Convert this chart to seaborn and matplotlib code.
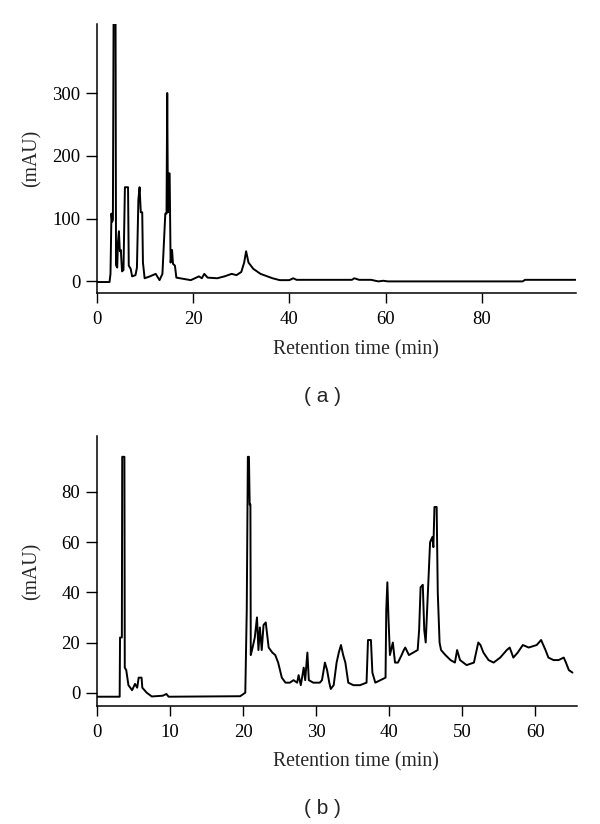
"""
HPLC chromatograms of two extracts, panels (a) and (b).
"""

import matplotlib

matplotlib.use("Agg")
import matplotlib.pyplot as plt
import pandas as pd
import seaborn as sns

# Panel (a): retention time (min) and absorbance (mAU)
time_a = [
    0, 2.6, 2.8, 3.0, 3.15, 3.3, 3.45, 3.85, 3.95, 4.2, 4.35, 4.55,
    4.75, 4.95, 5.2, 5.5, 5.8, 6.45, 6.6, 7.0, 7.3, 8.0, 8.3, 8.6,
    8.85, 9.1, 9.4, 9.55, 9.9, 11.0, 12.2, 13.0, 13.6, 14.2, 14.45, 14.6,
    14.75, 14.9, 15.1, 15.3, 15.6, 15.8, 16.2, 16.5, 18.0, 19.5, 21.2, 21.8,
    22.3, 23.0, 25.0, 26.5, 28.0, 29.0, 30.0, 30.6, 31.0, 31.5, 32.5, 34.0,
    36.5, 38.0, 40.0, 40.8, 41.5, 53.0, 53.5, 54.5, 57.0, 58.5, 59.5, 60.5,
    88.5, 89.0, 99.5,
]
mau_a = [
    -1, -1, 12, 108, 95, 98, 430, 430, 26, 22, 62, 80,
    48, 50, 16, 18, 150, 150, 25, 20, 8, 10, 22, 130,
    150, 110, 110, 30, 5, 8, 12, 2, 12, 108, 108, 300,
    110, 172, 172, 30, 50, 28, 25, 6, 4, 2, 8, 5,
    12, 6, 5, 8, 12, 10, 15, 30, 48, 30, 20, 12,
    5, 2, 2, 5, 2.5, 2.5, 5, 2.5, 2.5, 0, 1, 0,
    0, 2.5, 2.5,
]

# Panel (b)
time_b = [
    0, 3.1, 3.15, 3.4, 3.45, 3.75, 3.8, 4.0, 4.3, 4.8, 5.2, 5.5, 5.7,
    6.1, 6.2, 6.8, 7.5, 9.0, 9.5, 9.8, 19.6, 20.3, 20.5, 20.65, 20.8, 20.9,
    21.0, 21.05, 21.3, 21.6, 21.9, 22.1, 22.3, 22.55, 22.8, 23.1, 23.5, 24.0,
    24.4, 24.8, 25.3, 25.8, 26.4, 26.9, 27.4, 27.6, 27.9, 28.3, 28.5, 28.8,
    29.0, 29.6, 30.5, 30.8, 31.2, 31.5, 31.8, 32.0, 32.4, 32.8, 33.1, 33.4,
    33.7, 34.0, 34.4, 35.1, 36.0, 36.9, 37.1, 37.5, 37.7, 38.1, 38.8, 39.5,
    39.6, 39.75, 39.9, 40.1, 40.5, 40.8, 41.2, 41.7, 42.0, 42.2, 42.7, 43.3,
    43.9, 44.1, 44.3, 44.6, 44.8, 45.0, 45.3, 45.6, 45.9, 46.05, 46.2,
    46.5, 46.65, 46.9, 47.1, 47.7, 48.4, 49.0, 49.3, 49.7, 50.6, 51.6, 52.2,
    52.5, 52.9, 53.6, 54.3, 55.2, 56.1, 56.5, 57.0, 57.6, 58.3, 59.1, 60.2,
    60.8, 61.4, 61.8, 62.5, 63.2, 63.9, 64.2, 64.6, 65.1,
]
mau_b = [
    -1.6, -1.6, 22, 22, 94, 94, 10, 9, 3, 1, 3.5, 2, 6,
    6, 2, 0, -1.5, -1.2, -0.5, -1.6, -1.4, 0, 33, 94, 94, 75,
    75, 15, 18, 22, 30, 17, 26, 17, 27, 28, 18, 16,
    15, 12, 6, 4, 4, 5, 4, 7, 3, 10, 5, 16,
    5, 4, 4, 5, 12, 9, 4, 1.5, 3, 12, 16, 19,
    15, 12, 4, 3, 3, 4, 21, 21, 8, 4, 5, 6,
    33, 44, 30, 15, 20, 12, 12, 15, 17, 18, 15, 16,
    17, 25, 42, 43, 25, 20, 40, 60, 62, 58, 74,
    74, 40, 20, 17, 15, 13, 12, 17, 13, 11, 12, 20,
    19, 16, 13, 12, 14, 17, 18, 14, 16, 19, 18, 19,
    21, 17, 14, 13, 13, 14, 12, 9, 8,
]

xticks_a = [0, 20, 40, 60, 80]
yticks_a = [0, 100, 200, 300]
xticks_b = [0, 10, 20, 30, 40, 50, 60]
yticks_b = [0, 20, 40, 60, 80]

sns.set_style("ticks")
plt.rcParams["font.family"] = ["Liberation Serif", "DejaVu Serif"]

fig = plt.figure(figsize=(6, 8.24), dpi=100)
ax_a = fig.add_axes([0.1617, 0.6444, 0.7983, 0.3265])
ax_b = fig.add_axes([0.1617, 0.1432, 0.7998, 0.3277])


def draw_panel(ax, time, mau, xlim, ylim, xticks, yticks, xlabel_y):
    df = pd.DataFrame({"time": time, "mau": mau})
    sns.lineplot(data=df, x="time", y="mau", ax=ax, color="black",
                 linewidth=1.4, estimator=None, sort=False)
    ax.set_xlim(*xlim)
    ax.set_ylim(*ylim)
    ax.set_xticks(xticks)
    ax.set_yticks(yticks)
    ax.tick_params(direction="out", width=1, labelsize=13.5, colors="black")
    ax.tick_params(axis="x", length=7, pad=6)
    ax.tick_params(axis="y", length=8, pad=4)
    for side in ["top", "right"]:
        ax.spines[side].set_visible(False)
    for side in ["left", "bottom"]:
        ax.spines[side].set_linewidth(1.1)
        ax.spines[side].set_color("black")
    ax.set_xlabel("Retention time (min)", fontsize=14.2, va="center")
    ax.set_ylabel("(mAU)", fontsize=14.2, va="center")
    ax.xaxis.set_label_coords(0.54, xlabel_y)
    ax.yaxis.set_label_coords(-0.135, 0.5)


draw_panel(ax_a, time_a, mau_a, (0, 99.6), (-18.5, 410), xticks_a, yticks_a, -0.212)
draw_panel(ax_b, time_b, mau_b, (0, 65.7), (-5.3, 102.3), xticks_b, yticks_b, -0.207)

fig.text(0.537, 1 - 397 / 824, "( a )", ha="center", va="center",
         fontsize=15, family=["Liberation Sans", "DejaVu Sans"])
fig.text(0.537, 1 - 808 / 824, "( b )", ha="center", va="center",
         fontsize=15, family=["Liberation Sans", "DejaVu Sans"])

fig.savefig("out.png", dpi=100)
plt.close(fig)
